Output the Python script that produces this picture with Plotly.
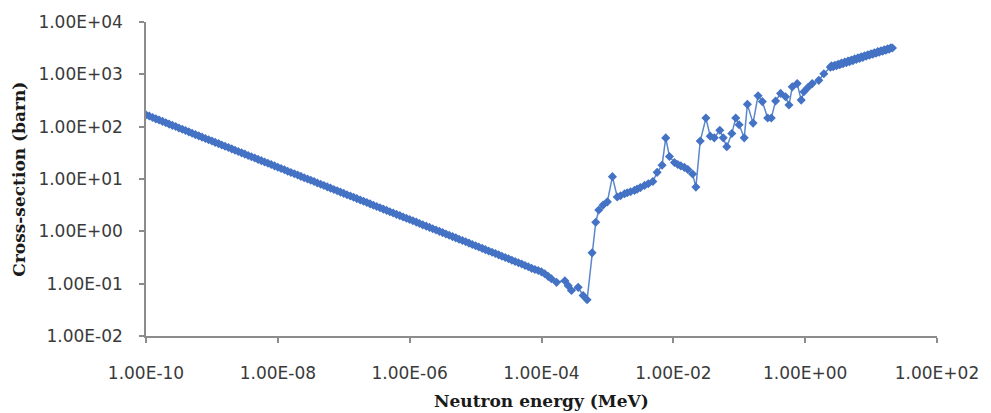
import plotly.graph_objects as go

# Neutron energy grid (MeV) and total cross-section (barn)
# Thermal / epithermal region, 1e-10 to ~1e-4 MeV
energy_thermal = [
    1.00e-10, 1.12e-10, 1.26e-10, 1.41e-10, 1.58e-10, 1.78e-10, 2.00e-10, 2.24e-10, 2.51e-10, 2.82e-10,
    3.16e-10, 3.55e-10, 3.98e-10, 4.47e-10, 5.01e-10, 5.62e-10, 6.31e-10, 7.08e-10, 7.94e-10, 8.91e-10,
    1.00e-9, 1.12e-9, 1.26e-9, 1.41e-9, 1.58e-9, 1.78e-9, 2.00e-9, 2.24e-9, 2.51e-9, 2.82e-9,
    3.16e-9, 3.55e-9, 3.98e-9, 4.47e-9, 5.01e-9, 5.62e-9, 6.31e-9, 7.08e-9, 7.94e-9, 8.91e-9,
    1.00e-8, 1.12e-8, 1.26e-8, 1.41e-8, 1.58e-8, 1.78e-8, 2.00e-8, 2.24e-8, 2.51e-8, 2.82e-8,
    3.16e-8, 3.55e-8, 3.98e-8, 4.47e-8, 5.01e-8, 5.62e-8, 6.31e-8, 7.08e-8, 7.94e-8, 8.91e-8,
    1.00e-7, 1.12e-7, 1.26e-7, 1.41e-7, 1.58e-7, 1.78e-7, 2.00e-7, 2.24e-7, 2.51e-7, 2.82e-7,
    3.16e-7, 3.55e-7, 3.98e-7, 4.47e-7, 5.01e-7, 5.62e-7, 6.31e-7, 7.08e-7, 7.94e-7, 8.91e-7,
    1.00e-6, 1.12e-6, 1.26e-6, 1.41e-6, 1.58e-6, 1.78e-6, 2.00e-6, 2.24e-6, 2.51e-6, 2.82e-6,
    3.16e-6, 3.55e-6, 3.98e-6, 4.47e-6, 5.01e-6, 5.62e-6, 6.31e-6, 7.08e-6, 7.94e-6, 8.91e-6,
    1.00e-5, 1.12e-5, 1.26e-5, 1.41e-5, 1.58e-5, 1.78e-5, 2.00e-5, 2.24e-5, 2.51e-5, 2.82e-5,
    3.16e-5, 3.55e-5, 3.98e-5, 4.47e-5, 5.01e-5, 5.62e-5, 6.31e-5, 7.08e-5, 7.94e-5, 8.91e-5,
    1.00e-4, 1.12e-4, 1.26e-4, 1.41e-4,
]
xs_thermal = [
    168, 160, 150, 141, 134, 126, 119, 112, 106, 101,
    94.5, 89.1, 84.3, 79.4, 75.0, 70.6, 66.8, 63.1, 59.6, 56.4,
    53.1, 50.1, 47.5, 44.7, 42.2, 39.9, 37.6, 35.5, 33.6, 31.6,
    29.9, 28.1, 26.6, 25.2, 23.7, 22.4, 21.1, 20.0, 18.9, 17.8,
    16.8, 15.9, 15.0, 14.1, 13.3, 12.6, 11.9, 11.2, 10.6, 10.0,
    9.45, 8.93, 8.41, 7.94, 7.50, 7.08, 6.68, 6.31, 5.96, 5.62,
    5.31, 5.01, 4.73, 4.47, 4.22, 3.98, 3.76, 3.55, 3.35, 3.16,
    2.99, 2.82, 2.66, 2.51, 2.37, 2.24, 2.11, 2.00, 1.88, 1.78,
    1.68, 1.59, 1.50, 1.41, 1.33, 1.26, 1.19, 1.12, 1.06, 1.00,
    0.945, 0.891, 0.841, 0.794, 0.750, 0.708, 0.668, 0.631, 0.596, 0.562,
    0.531, 0.501, 0.473, 0.447, 0.422, 0.398, 0.376, 0.355, 0.335, 0.316,
    0.299, 0.280, 0.266, 0.251, 0.237, 0.222, 0.211, 0.196, 0.186, 0.178,
    0.168, 0.155, 0.138, 0.124,
]

# Resolved resonance region
energy_resonance = [
    1.69e-4, 2.26e-4, 2.54e-4, 2.85e-4, 3.60e-4, 4.28e-4, 4.92e-4,
    5.85e-4, 6.65e-4, 7.40e-4, 8.59e-4, 9.98e-4, 1.19e-3, 1.41e-3, 1.58e-3,
    1.82e-3, 2.00e-3, 2.24e-3, 2.58e-3, 2.82e-3, 3.16e-3, 3.66e-3, 4.17e-3,
    4.89e-3, 5.68e-3, 6.75e-3, 7.67e-3, 8.73e-3, 1.04e-2, 1.17e-2, 1.30e-2,
    1.47e-2, 1.66e-2, 1.96e-2, 2.20e-2, 2.56e-2, 3.12e-2, 3.63e-2, 4.18e-2,
    5.07e-2, 5.71e-2, 6.47e-2, 7.71e-2, 8.85e-2, 9.95e-2, 0.119, 0.133,
    0.162, 0.193, 0.224, 0.270, 0.306, 0.356, 0.424, 0.504, 0.568, 0.637,
    0.757, 0.871, 0.957, 1.10, 1.28, 1.61, 1.92, 2.41,
]
xs_resonance = [
    0.106, 0.114, 0.0916, 0.0738, 0.0851, 0.0594, 0.0493,
    0.388, 1.49, 2.55, 3.17, 3.66, 11.1, 4.54, 4.80,
    5.24, 5.45, 5.70, 6.07, 6.40, 6.85, 7.55, 8.10,
    8.97, 13.4, 18.4, 61.0, 26.9, 20.7, 18.9, 17.8,
    16.7, 15.2, 12.5, 7.0, 53.1, 146, 65.9, 61.2,
    85.5, 61.2, 41.5, 73.8, 146, 109, 61.2, 267,
    117, 390, 301, 146, 146, 309, 432, 374, 259, 577,
    665, 322, 464, 560, 665, 768, 1026, 1371,
]

# Fast region up to ~20 MeV
energy_fast = [
    2.51, 2.66, 2.82, 2.99, 3.16, 3.35, 3.55, 3.76, 3.98, 4.22,
    4.47, 4.73, 5.01, 5.31, 5.62, 5.96, 6.31, 6.68, 7.08, 7.50,
    7.94, 8.41, 8.91, 9.44, 10.0, 10.6, 11.2, 11.9, 12.6, 13.3,
    14.1, 15.0, 15.8, 16.8, 17.8, 18.8, 20.0, 21.1,
]
xs_fast = [
    1450, 1400, 1490, 1460, 1560, 1520, 1640, 1590, 1720, 1670,
    1800, 1750, 1880, 1830, 1970, 1920, 2060, 2010, 2160, 2110,
    2260, 2210, 2360, 2310, 2470, 2420, 2590, 2530, 2710, 2650,
    2830, 2760, 2950, 2890, 3080, 3030, 3230, 3190,
]

energy = energy_thermal + energy_resonance + energy_fast
cross_section = xs_thermal + xs_resonance + xs_fast

x_tick_vals = [1e-10, 1e-8, 1e-6, 1e-4, 1e-2, 1e0, 1e2]
x_tick_text = ["1.00E-10", "1.00E-08", "1.00E-06", "1.00E-04",
               "1.00E-02", "1.00E+00", "1.00E+02"]
y_tick_vals = [1e-2, 1e-1, 1e0, 1e1, 1e2, 1e3, 1e4]
y_tick_text = ["1.00E-02", "1.00E-01", "1.00E+00", "1.00E+01",
               "1.00E+02", "1.00E+03", "1.00E+04"]

blue = "#4472c4"
axis_grey = "#8c8c8c"
tick_font = dict(family="DejaVu Sans", size=17, color="#3a3a3a")
title_font = dict(family="DejaVu Serif", size=17, color="#1a1a1a", weight="bold")

fig = go.Figure()
fig.add_trace(go.Scatter(
    x=energy, y=cross_section,
    mode="lines+markers",
    line=dict(color="#5a86cc", width=1.5),
    marker=dict(symbol="diamond", size=7, color=blue),
    showlegend=False,
    hoverinfo="x+y",
))

fig.update_xaxes(
    type="log", range=[-10, 2],
    tickvals=x_tick_vals, ticktext=x_tick_text,
    ticks="outside", ticklen=5, tickwidth=1.5, tickcolor=axis_grey,
    showline=True, linecolor=axis_grey, linewidth=1.5,
    showgrid=False, zeroline=False,
    tickfont=tick_font, ticklabelstandoff=16,
)
fig.update_yaxes(
    type="log", range=[-2, 4],
    tickvals=y_tick_vals, ticktext=y_tick_text,
    ticks="outside", ticklen=5, tickwidth=1.5, tickcolor=axis_grey,
    showline=True, linecolor=axis_grey, linewidth=1.5,
    showgrid=False, zeroline=False,
    tickfont=tick_font, ticklabelstandoff=13,
)

fig.add_annotation(
    text="Neutron energy (MeV)", xref="paper", yref="paper",
    x=0.5, y=-0.207, xanchor="center", yanchor="middle",
    showarrow=False, font=title_font,
)
fig.add_annotation(
    text="Cross-section (barn)", xref="paper", yref="paper",
    x=-0.161, y=0.5, xanchor="center", yanchor="middle", textangle=-90,
    showarrow=False, font=title_font,
)

fig.update_layout(
    width=991, height=413,
    margin=dict(l=146, r=51, t=18, b=77),
    paper_bgcolor="white", plot_bgcolor="white",
)

fig.write_html("out.html")
